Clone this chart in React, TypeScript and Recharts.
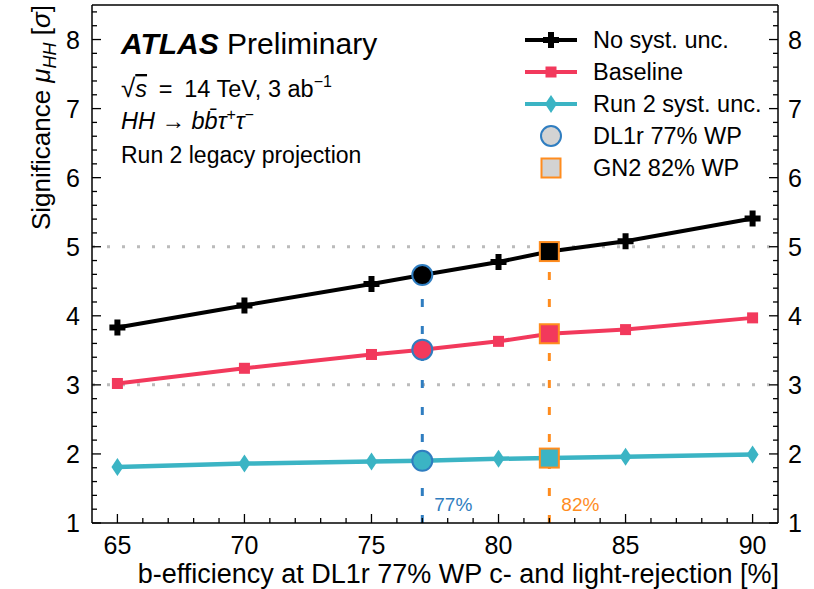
import React from 'react';
import { ComposedChart, Line, XAxis, YAxis, ReferenceLine, Legend, Customized } from 'recharts';

// b-efficiency working points [%]
const xValues = [65, 70, 75, 77, 80, 82, 85, 90];
// significance per scenario
const noSyst = [3.83, 4.15, 4.46, 4.59, 4.78, 4.93, 5.08, 5.41];
const baselineSig = [3.02, 3.24, 3.44, 3.51, 3.63, 3.74, 3.8, 3.97];
const run2Syst = [1.81, 1.86, 1.89, 1.9, 1.93, 1.94, 1.96, 1.99];

const xMajor = [65, 70, 75, 80, 85, 90];
const xMinor = Array.from({ length: 26 }, (_, i) => 65 + i);
const yMajor = [1, 2, 3, 4, 5, 6, 7, 8];
const yMinor = Array.from({ length: 38 }, (_, i) => Math.round((1 + i * 0.2) * 10) / 10);

const wpDL1r = 77;
const wpGN2 = 82;

const legendLabels = ['No syst. unc.', 'Baseline', 'Run 2 syst. unc.', 'DL1r 77% WP', 'GN2 82% WP'];

const data = xValues.map((x, i) => ({ x, noSyst: noSyst[i], baseline: baselineSig[i], run2: run2Syst[i] }));

const FONT = '"Liberation Sans", Arial, Helvetica, sans-serif';
const BLACK = '#000000';
const RED = '#f2395c';
const CYAN = '#3bb4c4';
const BLUE = '#2f7dc0';
const ORANGE = '#ff8c1e';

const plusPath = (cx: number, cy: number, s = 16, t = 6) => {
  const a = (s - t) / 2;
  return `M${cx - t / 2},${cy - s / 2} h${t} v${a} h${a} v${t} h${-a} v${a} h${-t} v${-a} h${-a} v${-t} h${a} Z`;
};

const Marker = ({ kind, cx, cy, color }: { kind: string; cx: number; cy: number; color: string }) => {
  if (kind === 'plus') return <path d={plusPath(cx, cy)} fill={color} />;
  if (kind === 'square') return <rect x={cx - 5.5} y={cy - 5.5} width={11} height={11} fill={color} />;
  if (kind === 'diamond') return <path d={`M${cx},${cy - 9} L${cx + 6},${cy} L${cx},${cy + 9} L${cx - 6},${cy} Z`} fill={color} />;
  if (kind === 'wpCircle') return <circle cx={cx} cy={cy} r={10} fill={color} stroke={BLUE} strokeWidth={2} />;
  return <rect x={cx - 9.5} y={cy - 9.5} width={19} height={19} fill={color} stroke={ORANGE} strokeWidth={2} />;
};

const makeDot = (kind: string, color: string) => (props: any) => {
  const { cx, cy, payload, index } = props;
  let k = kind;
  if (payload.x === wpDL1r) k = 'wpCircle';
  if (payload.x === wpGN2) k = 'wpSquare';
  return (
    <g key={`dot-${kind}-${index}`}>
      <Marker kind={k} cx={cx} cy={cy} color={color} />
    </g>
  );
};

const BottomTick = (props: any) => {
  const { x, y, payload } = props;
  const major = xMajor.includes(payload.value);
  return (
    <g>
      <line x1={x} x2={x} y1={y} y2={y - (major ? 9 : 5)} stroke="#000" strokeWidth={1.3} />
      {major && (
        <text x={x} y={y + 31} textAnchor="middle" fontSize={25} fontFamily={FONT} fill="#000">
          {payload.value}
        </text>
      )}
    </g>
  );
};

const TopTick = (props: any) => {
  const { x, y, payload } = props;
  const major = xMajor.includes(payload.value);
  return <line x1={x} x2={x} y1={y} y2={y + (major ? 9 : 5)} stroke="#000" strokeWidth={1.3} />;
};

const LeftTick = (props: any) => {
  const { x, y, payload } = props;
  const major = yMajor.includes(payload.value);
  return (
    <g>
      <line x1={x} x2={x + (major ? 9 : 5)} y1={y} y2={y} stroke="#000" strokeWidth={1.3} />
      {major && (
        <text x={x - 12} y={y + 9} textAnchor="end" fontSize={25} fontFamily={FONT} fill="#000">
          {payload.value}
        </text>
      )}
    </g>
  );
};

const RightTick = (props: any) => {
  const { x, y, payload } = props;
  const major = yMajor.includes(payload.value);
  return (
    <g>
      <line x1={x} x2={x - (major ? 9 : 5)} y1={y} y2={y} stroke="#000" strokeWidth={1.3} />
      {major && (
        <text x={x + 10} y={y + 9} textAnchor="start" fontSize={25} fontFamily={FONT} fill="#000">
          {payload.value}
        </text>
      )}
    </g>
  );
};

const legendIcons = [
  { line: BLACK, kind: 'plus', color: BLACK },
  { line: RED, kind: 'square', color: RED },
  { line: CYAN, kind: 'diamond', color: CYAN },
  { line: null, kind: 'wpCircle', color: '#d3d3d3' },
  { line: null, kind: 'wpSquare', color: '#d3d3d3' },
];

const renderLegend = () => (
  <div style={{ fontFamily: FONT, fontSize: 23.5, color: '#000' }}>
    {legendLabels.map((label, i) => (
      <div key={label} style={{ display: 'flex', alignItems: 'center', height: 32 }}>
        <svg width={60} height={32} style={{ flex: 'none' }}>
          {legendIcons[i].line && <line x1={3} x2={55} y1={16} y2={16} stroke={legendIcons[i].line!} strokeWidth={4} />}
          <Marker kind={legendIcons[i].kind} cx={29} cy={16} color={legendIcons[i].color} />
        </svg>
        <span style={{ marginLeft: 11, whiteSpace: 'nowrap' }}>{label}</span>
      </div>
    ))}
  </div>
);

const Annotations = () => (
  <g fontFamily={FONT} fill="#000">
    <text x={121} y={54} fontSize={30}>
      <tspan fontWeight="bold" fontStyle="italic">ATLAS</tspan>
      <tspan> Preliminary</tspan>
    </text>
    <text x={121} y={97} fontSize={23.5}>
      <tspan fontSize={26}>√</tspan>
      <tspan fontStyle="italic" textDecoration="overline">s</tspan>
      <tspan>{'\u2002=\u200214 TeV, 3 ab'}</tspan>
      <tspan dy={-10} fontSize={16}>−1</tspan>
    </text>
    <text x={121} y={129} fontSize={23.5}>
      <tspan fontStyle="italic">HH</tspan>
      <tspan> → </tspan>
      <tspan fontStyle="italic">bb̄τ</tspan>
      <tspan dy={-9} fontSize={16}>+</tspan>
      <tspan dy={9} fontStyle="italic">τ</tspan>
      <tspan dy={-9} fontSize={16}>−</tspan>
    </text>
    <text x={121} y={163} fontSize={23}>Run 2 legacy projection</text>
    <text x={779} y={583} fontSize={27} textAnchor="end">
      b-efficiency at DL1r 77% WP c- and light-rejection [%]
    </text>
    <text transform="translate(50,5) rotate(-90)" fontSize={26} textAnchor="end">
      <tspan>Significance </tspan>
      <tspan fontStyle="italic">μ</tspan>
      <tspan dy={6} fontSize={18} fontStyle="italic">HH</tspan>
      <tspan dy={-6}> [</tspan>
      <tspan fontStyle="italic">σ</tspan>
      <tspan>]</tspan>
    </text>
  </g>
);

export default function App() {
  const black77 = noSyst[xValues.indexOf(wpDL1r)];
  const black82 = noSyst[xValues.indexOf(wpGN2)];
  return (
    <div style={{ position: 'absolute', left: 0, top: 0, width: 814, height: 589, background: '#fff' }}>
      <ComposedChart width={814} height={589} data={data} margin={{ top: 0, right: 0, bottom: 0, left: 0 }}>
        <XAxis
          dataKey="x"
          type="number"
          domain={[64, 91]}
          allowDataOverflow
          ticks={xMinor}
          interval={0}
          tick={BottomTick}
          tickLine={false}
          tickSize={0}
          tickMargin={0}
          height={66}
          axisLine={{ stroke: '#000', strokeWidth: 1.5 }}
        />
        <XAxis
          xAxisId="top"
          orientation="top"
          type="number"
          domain={[64, 91]}
          allowDataOverflow
          ticks={xMinor}
          interval={0}
          tick={TopTick}
          tickLine={false}
          tickSize={0}
          tickMargin={0}
          height={5}
          axisLine={{ stroke: '#000', strokeWidth: 1.5 }}
        />
        <YAxis
          type="number"
          domain={[1, 8.5]}
          allowDataOverflow
          ticks={yMinor}
          interval={0}
          tick={LeftTick}
          tickLine={false}
          tickSize={0}
          tickMargin={0}
          width={92}
          axisLine={{ stroke: '#000', strokeWidth: 1.5 }}
        />
        <YAxis
          yAxisId="right"
          orientation="right"
          type="number"
          domain={[1, 8.5]}
          allowDataOverflow
          ticks={yMinor}
          interval={0}
          tick={RightTick}
          tickLine={false}
          tickSize={0}
          tickMargin={0}
          width={36}
          axisLine={{ stroke: '#000', strokeWidth: 1.5 }}
        />
        <ReferenceLine y={3} stroke="#bbbbbb" strokeWidth={3} strokeDasharray="3 12" />
        <ReferenceLine y={5} stroke="#bbbbbb" strokeWidth={3} strokeDasharray="3 12" />
        <ReferenceLine
          segment={[{ x: wpDL1r, y: 1 }, { x: wpDL1r, y: black77 }]}
          stroke={BLUE}
          strokeWidth={3}
          strokeDasharray="8 19"
          label={{ value: '77%', position: 'insideBottomLeft', offset: 12, fill: BLUE, fontSize: 19, fontFamily: FONT }}
        />
        <ReferenceLine
          segment={[{ x: wpGN2, y: 1 }, { x: wpGN2, y: black82 }]}
          stroke={ORANGE}
          strokeWidth={3}
          strokeDasharray="8 19"
          label={{ value: '82%', position: 'insideBottomLeft', offset: 12, fill: ORANGE, fontSize: 19, fontFamily: FONT }}
        />
        <Line dataKey="run2" stroke={CYAN} strokeWidth={4.5} dot={makeDot('diamond', CYAN)} activeDot={false} isAnimationActive={false} />
        <Line dataKey="baseline" stroke={RED} strokeWidth={4} dot={makeDot('square', RED)} activeDot={false} isAnimationActive={false} />
        <Line dataKey="noSyst" stroke={BLACK} strokeWidth={4} dot={makeDot('plus', BLACK)} activeDot={false} isAnimationActive={false} />
        <Legend
          layout="vertical"
          align="center"
          verticalAlign="middle"
          content={renderLegend}
          wrapperStyle={{ top: 24, left: 522, width: 260, height: 165 }}
        />
        <Customized component={<Annotations />} />
      </ComposedChart>
    </div>
  );
}
